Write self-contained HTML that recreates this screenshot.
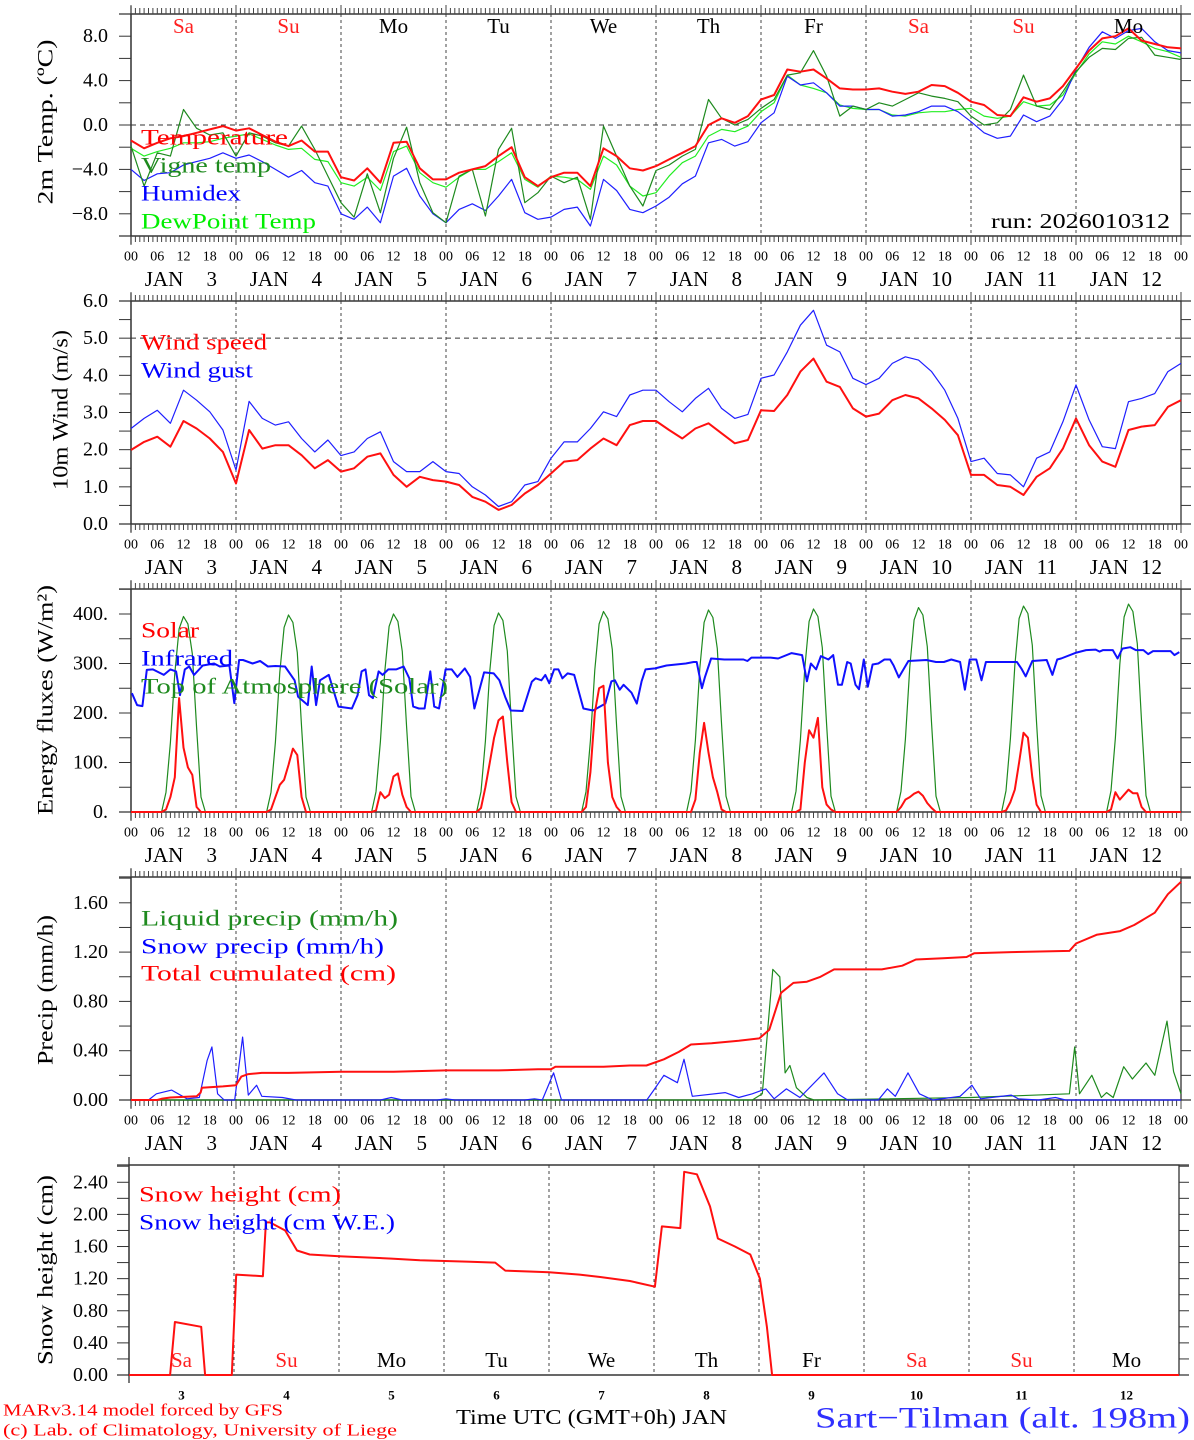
<!DOCTYPE html>
<html><head><meta charset="utf-8"><title>MAR forecast Sart-Tilman</title>
<style>
html,body{margin:0;padding:0;background:#fff;}
svg{display:block;font-family:"Liberation Serif",serif;}
</style></head>
<body>
<svg id="chart" width="1194" height="1440" viewBox="0 0 1194 1440" xmlns="http://www.w3.org/2000/svg">
<rect x="0" y="0" width="1194" height="1440" fill="#fff"/>
</svg>
<script>
// ---------- DATA ----------
const dayNames = ["Sa","Su","Mo","Tu","We","Th","Fr","Sa","Su","Mo"];
const dayNums = ["3","4","5","6","7","8","9","10","11","12"];
const hourLabels = ["00","06","12","18"];
// 3-hourly series, t = 0..240 h (index*3)
const temperature = [-1.4,-2.1,-1.6,-1.2,-1.0,-0.7,-0.4,-0.1,-0.5,-0.3,-0.9,-1.5,-1.9,-1.4,-2.4,-2.4,-4.7,-5.0,-3.9,-5.2,-1.6,-1.5,-3.9,-4.9,-4.9,-4.3,-4.0,-3.7,-2.8,-2.0,-4.7,-5.5,-4.7,-4.3,-4.3,-5.5,-2.1,-2.8,-3.9,-4.1,-3.7,-3.1,-2.5,-1.9,0.0,0.6,0.2,0.8,2.3,2.7,5.0,4.8,5.0,4.2,3.3,3.2,3.2,3.3,3.0,2.8,3.0,3.6,3.5,2.9,2.1,1.8,0.9,0.8,2.5,2.1,2.4,3.5,5.1,6.7,7.8,8.0,8.7,7.6,7.3,7.0,6.9];
const vigneTemp = [-1.9,-5.5,-2.5,-2.8,1.4,-0.3,-0.9,-0.7,-2.8,-0.7,-1.0,-1.6,-1.9,-0.1,-2.2,-4.6,-7.0,-8.3,-4.4,-7.9,-3.0,-0.2,-5.2,-7.9,-8.8,-4.6,-4.0,-8.2,-2.2,-0.3,-7.0,-6.1,-4.6,-5.2,-4.7,-8.5,-0.1,-2.8,-5.5,-7.3,-4.1,-3.6,-2.8,-2.2,2.3,0.6,0.0,0.5,1.5,2.3,4.5,4.7,6.7,4.4,0.8,1.7,1.4,2.0,1.7,2.3,2.9,2.6,2.4,2.1,0.8,0.0,0.2,1.4,4.5,1.7,1.4,3.0,4.8,6.1,6.9,6.8,7.8,7.9,6.3,6.1,5.9];
const humidex = [-4.0,-5.0,-4.4,-4.3,-3.6,-3.3,-3.0,-2.5,-3.0,-2.7,-3.3,-4.0,-4.7,-4.1,-5.2,-5.5,-8.0,-8.5,-7.4,-8.8,-4.6,-3.9,-6.4,-8.0,-8.8,-7.6,-7.1,-7.7,-6.4,-4.9,-7.9,-8.5,-8.3,-7.6,-7.4,-9.1,-4.9,-5.9,-7.6,-7.9,-7.3,-6.5,-5.3,-4.6,-1.6,-1.3,-1.9,-1.5,0.2,1.1,4.4,3.6,3.8,2.9,1.7,1.7,1.4,1.4,0.8,0.9,1.2,1.7,1.7,1.2,0.3,-0.7,-1.2,-1.0,0.9,0.3,0.8,2.3,5.0,7.0,8.4,7.8,8.5,8.7,7.5,6.7,6.5];
const dewPoint = [-2.1,-2.8,-2.4,-2.1,-1.6,-1.6,-1.5,-1.2,-1.0,-0.8,-1.3,-1.8,-2.2,-2.1,-3.1,-3.3,-5.2,-5.5,-4.7,-5.9,-2.4,-1.9,-4.3,-5.2,-5.6,-4.7,-4.0,-4.0,-3.3,-2.5,-4.9,-5.6,-4.6,-4.7,-4.9,-5.8,-2.8,-3.6,-5.5,-6.4,-6.1,-4.6,-3.4,-2.8,-1.0,-0.4,-0.6,-0.1,1.2,2.0,4.5,3.6,3.3,2.9,1.8,1.5,1.4,1.4,0.9,0.8,1.1,1.2,1.2,1.4,1.5,0.8,0.6,0.8,2.1,1.7,1.8,2.7,4.7,6.4,7.5,7.3,8.0,7.5,6.9,6.6,6.1];
const windSpeed = [1.99,2.21,2.35,2.08,2.77,2.57,2.30,1.94,1.09,2.53,2.03,2.12,2.12,1.85,1.50,1.72,1.41,1.50,1.81,1.90,1.32,1.00,1.27,1.18,1.14,1.05,0.73,0.60,0.38,0.51,0.82,1.05,1.36,1.68,1.72,2.03,2.30,2.12,2.66,2.77,2.77,2.53,2.30,2.57,2.71,2.44,2.17,2.26,3.06,3.04,3.47,4.10,4.45,3.83,3.69,3.11,2.89,2.97,3.33,3.47,3.38,3.11,2.80,2.39,1.32,1.32,1.05,1.00,0.78,1.27,1.50,2.03,2.84,2.12,1.68,1.54,2.53,2.62,2.66,3.15,3.33];
const windGust = [2.57,2.84,3.06,2.71,3.60,3.33,3.02,2.53,1.45,3.30,2.84,2.66,2.75,2.30,1.94,2.26,1.84,1.94,2.30,2.48,1.68,1.41,1.41,1.68,1.41,1.36,1.00,0.78,0.47,0.60,1.05,1.14,1.77,2.21,2.21,2.57,3.02,2.89,3.47,3.60,3.60,3.29,3.02,3.38,3.65,3.11,2.84,2.95,3.92,4.01,4.63,5.35,5.75,4.81,4.63,3.92,3.75,3.92,4.32,4.50,4.41,4.10,3.60,2.84,1.68,1.77,1.36,1.32,1.00,1.77,1.94,2.75,3.74,2.80,2.08,2.03,3.29,3.38,3.51,4.10,4.32];
// Solar & TOA: per day, hourly values for 07h..17h
const solarHours = [7,8,9,10,11,12,13,14,15,16,17];
const solar = [
[0,5,30,70,230,130,90,75,10,0,0],
[0,5,30,55,65,95,128,115,30,0,0],
[0,3,40,28,35,72,78,35,10,0,0],
[0,8,50,100,150,185,193,100,20,0,0],
[0,10,80,200,250,255,100,30,10,0,0],
[0,0,25,120,180,120,70,40,5,0,0],
[0,0,5,100,165,150,190,50,15,5,0],
[0,10,25,30,37,41,33,18,8,0,0],
[0,3,20,45,100,160,150,70,15,0,0],
[0,5,40,25,35,45,38,38,10,0,0]];
const toaSolar = [
[0,40,140,280,370,395,380,320,170,30,0],
[0,40,141,282,373,398,383,322,171,30,0],
[0,41,142,284,375,400,385,324,172,31,0],
[0,41,143,285,377,402,387,325,173,31,0],
[0,41,144,287,380,405,390,328,174,31,0],
[0,42,145,290,383,408,393,330,176,32,0],
[0,42,146,291,385,410,395,332,177,32,0],
[0,42,147,293,388,413,398,334,178,32,0],
[0,43,148,295,391,416,401,337,179,33,0],
[0,43,150,298,394,420,405,340,181,33,0]];
const irTimes = [0.2,1.4,2.6,3.6,5,7.5,9,10.3,11.2,12.3,13.3,14.4,16.4,19,20.3,22.5,23.6,24.7,25.6,27.8,29.5,31.3,33,35.2,37.4,38.2,40.4,41.3,42.3,43.2,45.2,47.4,50.5,51.8,52.7,53.6,54.4,55.3,56.6,57.5,58.8,60.6,62.3,63.6,64.5,65.8,67.1,68.4,69.3,70.4,71.9,73.3,74.6,76.3,77.5,78.5,80.7,82.9,84.2,85.5,86.8,89.5,91.6,92.5,93.8,94.7,95.6,96.7,97.7,98.6,99.8,101.3,103.4,105.6,108.4,109.8,110.6,111.7,112.6,114.4,115.6,116.7,117.6,119.8,122.4,126.8,128.6,129.3,130.5,131.2,132.6,135.6,140,140.9,141.8,143.5,146.2,147.9,151,153.4,154.5,155.4,156.6,157.7,159.4,160.5,161.6,162.5,163.7,164.5,165.6,166.4,167.5,168.4,169.5,170.8,172.2,173.5,174.3,175.5,177.7,181.8,184,185.8,187.5,189.5,190.6,191.7,193.2,194.4,195.4,198.1,202.5,203.5,204.5,206,209.3,210.6,211.7,212.6,216.1,218.3,220.5,221.4,222.2,224.4,225.5,226.6,228.4,229.7,231.4,232.5,233.6,236.7,237.6,238.5,239.6];
const infrared = [240,216,214,287,288,277,288,284,236,288,294,277,296,300,294,296,220,307,307,300,305,294,295,294,266,233,216,294,216,266,277,213,209,236,284,288,236,230,284,277,288,288,294,270,213,209,209,284,213,209,288,288,273,290,273,209,282,280,266,233,205,204,263,270,266,277,260,288,288,270,280,277,209,205,219,264,266,247,257,241,219,264,288,290,296,300,303,303,250,273,310,308,308,305,312,312,312,310,321,317,264,300,288,315,308,317,257,257,303,300,257,248,308,253,298,300,308,308,296,272,305,307,303,303,308,303,247,308,308,266,303,303,303,290,274,305,307,277,308,310,322,327,328,324,327,327,310,330,333,327,327,319,325,325,325,317,323];
const totalTimes = [0,6,7,9,15,15.9,16.2,21,24,25.2,26.8,29.9,36,48,60,72,84,93,96,97,108,114,117.8,121.8,125.2,128,132.7,138.9,143.6,145.9,148.6,151.4,154.5,157.6,160.7,171.6,176.3,179.4,185.6,191,192.7,201.2,214.5,216,220.7,226.1,229.3,234,237,240];
const totalCum = [0,0,0.01,0.02,0.03,0.06,0.10,0.11,0.12,0.19,0.21,0.22,0.22,0.23,0.23,0.24,0.24,0.25,0.25,0.27,0.27,0.28,0.28,0.33,0.39,0.45,0.46,0.48,0.50,0.57,0.87,0.95,0.96,1.00,1.06,1.06,1.09,1.14,1.15,1.16,1.19,1.20,1.21,1.27,1.34,1.37,1.42,1.52,1.67,1.77];
const snowPTimes = [0,4,5.8,9.3,12.8,15.6,17.4,18.5,19.8,21.3,23.7,25.5,26.8,28.7,29.9,34.6,37.7,57,59.5,62,70,72,74,90,92.2,94,96.6,98.4,117.9,119.5,121.8,124.9,126.4,128.3,135.8,138.9,142,145.1,147,149.8,152.9,158.4,161.5,163.8,170.8,172.9,174.7,177.6,180.2,183.3,189.5,192.2,194.2,201.2,202.8,207.4,211.3,213.6,240];
const snowPrecip = [0,0,0.05,0.08,0.01,0.02,0.32,0.43,0.05,0,0,0.51,0.04,0.12,0.03,0.02,0,0,0.02,0,0,0.01,0,0,0.01,0,0.22,0,0,0.08,0.20,0.14,0.33,0.03,0.06,0.02,0.05,0.09,0.01,0.09,0.02,0.22,0.05,0,0,0.09,0.03,0.22,0.05,0,0.03,0.12,0.01,0.04,0.01,0,0.02,0,0];
const liqTimes = [0,142,144.3,146.7,148.3,149.5,150.6,152.1,154.5,156.1,192,214.5,215.7,216.8,219.6,221.8,223,224.5,226.9,228.9,232,234,236.8,238.3,240];
const liqPrecip = [0,0,0.05,1.06,1.00,0.22,0.28,0.10,0.02,0,0.02,0.05,0.43,0.05,0.20,0.02,0.06,0.02,0.27,0.17,0.30,0.20,0.64,0.23,0.05];
const snowHTimes = [0,9.4,10.5,16.5,17.4,23.5,24.5,30.6,31.3,32.2,35.7,38.4,41.3,48,60,66.5,78,83.7,86,96,103,107.7,114.5,120.2,121.8,126,126.9,129.8,132.8,134.6,138.5,142,144.2,145.8,147,240];
const snowHeight = [0,0,0.66,0.60,0,0,1.25,1.23,1.90,1.90,1.80,1.55,1.50,1.48,1.45,1.43,1.41,1.40,1.30,1.28,1.25,1.22,1.17,1.10,1.85,1.83,2.53,2.50,2.10,1.70,1.60,1.50,1.20,0.60,0,0];

// ---------- DRAWING ----------
const svg = document.getElementById('chart');
const NS = 'http://www.w3.org/2000/svg';
const HPX = 105/24;
function mk(tag, attrs, parent){
  const e = document.createElementNS(NS, tag);
  for (const k in attrs) e.setAttribute(k, attrs[k]);
  (parent||svg).appendChild(e);
  return e;
}
function txt(s, x, y, size, color, anchor, extra){
  const t = mk('text', Object.assign({x:x, y:y, 'font-size':size, fill:color||'#000', 'text-anchor':anchor||'start', 'dominant-baseline':'central'}, extra||{}));
  t.textContent = s;
  return t;
}
function makePanel(p){
  const g = mk('g', {});
  
  
  p.g = g;
  p.xs = h => p.x0 + h*HPX;
  p.ys = v => p.bottom - (v - p.min)/(p.max - p.min)*(p.bottom - p.top);
  const x1 = p.x0 + 240*HPX;
  for (let d=1; d<10; d++){
    const l = mk('line', {x1:p.xs(24*d), x2:p.xs(24*d), y1:p.top, y2:p.bottom, stroke:'#444', 'stroke-width':1, 'stroke-dasharray':'3,3'}, g);
    
    
  }
  if (p.refLine !== undefined){
    const l = mk('line', {x1:p.x0, x2:x1, y1:p.ys(p.refLine), y2:p.ys(p.refLine), stroke:'#333', 'stroke-width':1, 'stroke-dasharray':'5,4'}, g);
    
    
  }
  const fr = mk('rect', {x:p.x0, y:p.top, width:x1-p.x0, height:p.bottom-p.top, fill:'none', stroke:'#333', 'stroke-width':1.3}, g);
  
  
  mk('line', {x1:p.x0, x2:p.x0, y1:p.top-8, y2:p.bottom+8, stroke:'#333','stroke-width':1.3}, g);
  mk('line', {x1:p.x0-12, x2:x1+10, y1:p.bottom, y2:p.bottom, stroke:'#333','stroke-width':1.3}, g);
  mk('line', {x1:p.x0-12, x2:x1+10, y1:p.top, y2:p.top, stroke:'#333','stroke-width':1.3}, g);
  if (p.hourTicks){
    let dstr = '';
    for (let h=0; h<=240; h++){
      const x = p.xs(h).toFixed(1);
      const L = (h%24===0) ? 9 : 6;
      dstr += `M${x} ${p.top} v${-L} M${x} ${p.bottom} v${L} `;
    }
    const tk = mk('path', {d:dstr, stroke:'#444', 'stroke-width':1, fill:'none'}, g);
    
    
  }
  for (let v=p.min; v<=p.max+1e-9; v+=p.minor){
    const y = p.ys(v);
    mk('line', {x1:p.x0-12, x2:p.x0, y1:y, y2:y, stroke:'#333','stroke-width':1}, g);
    mk('line', {x1:x1, x2:x1+10, y1:y, y2:y, stroke:'#333','stroke-width':1}, g);
  }
  p.tickLabels.forEach((s,i)=>{
    const t = txt(s, 108, p.ys(p.tickValues[i]), 20, '#000', 'end');
    
    
  });
  const yt = txt(p.title, 0, 0, 22, '#000', 'middle', {transform:`translate(${p.titleX},${p.titleY}) rotate(-90)`, textLength:p.titleLen, lengthAdjust:'spacingAndGlyphs'});
  
  
  if (p.hourLabels){
    for (let d=0; d<10; d++){
      for (let k=0; k<4; k++){
        const t = txt(hourLabels[k], p.xs(24*d+6*k), p.bottom+21, 14, '#000', 'middle');
        
        
      }
      const ja = txt('JAN', p.xs(24*d)+33, p.bottom+43, 21, '#000', 'middle');
      
      
      const dn = txt(dayNums[d], p.xs(24*d)+86, p.bottom+43, 21, '#000', 'end');
      
      
    }
    const t = txt('00', p.xs(240), p.bottom+21, 14, '#000', 'middle');
    
    
  }
  return p;
}
function series(p, times, vals, color, width, name){
  let d = '';
  for (let i=0; i<vals.length; i++){
    d += (i? 'L':'M') + p.xs(times[i]).toFixed(1) + ' ' + p.ys(vals[i]).toFixed(1) + ' ';
  }
  const path = mk('path', {d:d, stroke:color, 'stroke-width':width, fill:'none', 'stroke-linejoin':'round'}, p.g);
  
  
}
function idxTimes(arr){ return arr.map((_,i)=>i*3); }
function legend(p, items){
  items.forEach(it=>{
    const t = txt(it[0], it[3]||141, it[1], 22, it[2], 'start', {textLength:it[4], lengthAdjust:'spacingAndGlyphs'});
    
    
  });
}
function dailyPath(p, data, color, width, name){
  const t=[], v=[];
  t.push(0); v.push(0);
  for (let d=0; d<data.length; d++){
    for (let k=0; k<solarHours.length; k++){ t.push(24*d+solarHours[k]); v.push(data[d][k]); }
  }
  t.push(240); v.push(0);
  series(p, t, v, color, width, name);
}

const p1 = makePanel({name:'temperature-panel', x0:131, top:14, bottom:236, min:-10, max:10, minor:2,
  tickValues:[8,4,0,-4,-8], tickLabels:['8.0','4.0','0.0','\u22124.0','\u22128.0'],
  title:'2m Temp. (\u00baC)', titleX:45, titleY:122, titleLen:165, refLine:0, hourTicks:true, hourLabels:true});
series(p1, idxTimes(dewPoint), dewPoint, '#22ee22', 1.2, 'dewpoint-line');
series(p1, idxTimes(humidex), humidex, '#1f1fff', 1.2, 'humidex-line');
series(p1, idxTimes(vigneTemp), vigneTemp, '#1e8a1e', 1.2, 'vigne-temp-line');
series(p1, idxTimes(temperature), temperature, '#ff1010', 2, 'temperature-line');
legend(p1, [['Temperature',137,'#ff0000',0,147],['Vigne temp',165,'#1e8a1e',0,130],['Humidex',193,'#0000ff',0,100],['DewPoint Temp',221,'#00ee00',0,175]]);
dayNames.forEach((n,d)=>{
  const c = (n==='Sa'||n==='Su') ? '#ff2020' : '#000';
  const t = txt(n, p1.xs(24*d+12), 26, 21, c, 'middle');
  
  
});
const run = txt('run: 2026010312', 991, 221, 21, '#000', 'start', {textLength:179, lengthAdjust:'spacingAndGlyphs'});



const p2 = makePanel({name:'wind-panel', x0:131, top:301, bottom:524, min:0, max:6, minor:0.5,
  tickValues:[6,5,4,3,2,1,0], tickLabels:['6.0','5.0','4.0','3.0','2.0','1.0','0.0'],
  title:'10m Wind (m/s)', titleX:60, titleY:410, titleLen:160, refLine:5, hourTicks:true, hourLabels:true});
series(p2, idxTimes(windGust), windGust, '#1f1fff', 1.2, 'wind-gust-line');
series(p2, idxTimes(windSpeed), windSpeed, '#ff1010', 2, 'wind-speed-line');
legend(p2, [['Wind speed',342,'#ff0000',0,126],['Wind gust',370,'#0000ff',0,112]]);

const p3 = makePanel({name:'energy-panel', x0:131, top:589, bottom:812, min:0, max:450.5, minor:50,
  tickValues:[400,300,200,100,0], tickLabels:['400.','300.','200.','100.','0.'],
  title:'Energy fluxes (W/m\u00b2)', titleX:45, titleY:700, titleLen:230, hourTicks:true, hourLabels:true});
dailyPath(p3, toaSolar, '#1e8a1e', 1.2, 'toa-solar-line');
series(p3, irTimes, infrared, '#1010ff', 2, 'infrared-line');
dailyPath(p3, solar, '#ff1010', 2, 'solar-line');
legend(p3, [['Solar',630,'#ff0000',0,58],['Infrared',658,'#0000ff',0,92],['Top of Atmosphere (Solar)',686,'#1e8a1e',0,307]]);

const p4 = makePanel({name:'precip-panel', x0:131, top:877, bottom:1100, min:0, max:223/123.25, minor:0.2,
  tickValues:[1.6,1.2,0.8,0.4,0], tickLabels:['1.60','1.20','0.80','0.40','0.00'],
  title:'Precip (mm/h)', titleX:45, titleY:990, titleLen:150, hourTicks:true, hourLabels:true});
series(p4, liqTimes, liqPrecip, '#1e8a1e', 1.2, 'liquid-precip-line');
series(p4, snowPTimes, snowPrecip, '#1f1fff', 1.2, 'snow-precip-line');
series(p4, totalTimes, totalCum, '#ff1010', 2, 'total-cumulated-line');
legend(p4, [['Liquid precip (mm/h)',918,'#1e8a1e',0,257],['Snow precip (mm/h)',946,'#0000ff',0,243],['Total cumulated (cm)',973,'#ff0000',0,255]]);

const p5 = makePanel({name:'snow-height-panel', x0:129, top:1165, bottom:1375, min:0, max:210/80.3, minor:0.2,
  tickValues:[2.4,2.0,1.6,1.2,0.8,0.4,0], tickLabels:['2.40','2.00','1.60','1.20','0.80','0.40','0.00'],
  title:'Snow height (cm)', titleX:45, titleY:1270, titleLen:190, hourTicks:false, hourLabels:false});
dayNames.forEach((n,d)=>{
  const c = (n==='Sa'||n==='Su') ? '#ff2020' : '#000';
  const t = txt(n, p5.xs(24*d+12), 1360, 21, c, 'middle');
  
  
  const t2 = txt(dayNums[d], p5.xs(24*d+12), 1395, 13, '#000', 'middle', {'font-weight':'bold'});
  
  
});
series(p5, snowHTimes, snowHeight, '#ff1010', 2, 'snow-height-line');
legend(p5, [['Snow height (cm)',1194,'#ff0000',139,202],['Snow height (cm W.E.)',1222,'#0000ff',139,256]]);

const f1 = txt('MARv3.14 model forced by GFS', 3, 1410, 17, '#ff0000', 'start', {textLength:280, lengthAdjust:'spacingAndGlyphs'});


const f2 = txt('(c) Lab. of Climatology, University of Liege', 3, 1430, 17, '#ff0000', 'start', {textLength:394, lengthAdjust:'spacingAndGlyphs'});


const xt = txt('Time UTC (GMT+0h) JAN', 456, 1417, 21, '#000', 'start', {textLength:271, lengthAdjust:'spacingAndGlyphs'});


const st = txt('Sart\u2212Tilman (alt. 198m)', 815, 1418, 30, '#3030ff', 'start', {textLength:375, lengthAdjust:'spacingAndGlyphs'});


</script>
</body></html>
